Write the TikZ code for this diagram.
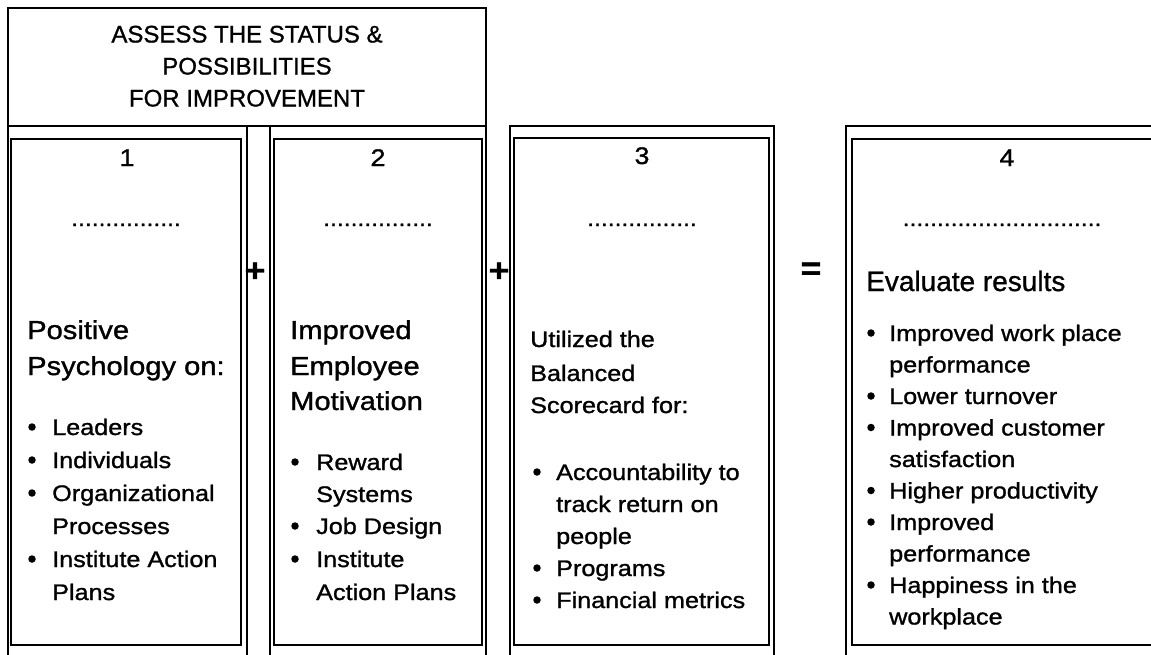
\documentclass[tikz,border=0pt]{standalone}
\usepackage{fontspec}
\setmainfont[FakeStretch=1.12,FakeBold=1.2]{Liberation Sans}
\newfontfamily\plainfont[FakeBold=1.0]{Liberation Sans}
\begin{document}
\begin{tikzpicture}[x=1pt,y=-1pt,
  outer/.style={line width=1.3pt},
  inner/.style={line width=2pt},
  hdr/.style={anchor=base, inner sep=0pt, font=\plainfont\fontsize{24}{28}\selectfont},
  num/.style={anchor=base, inner sep=0pt, font=\fontsize{24}{28}\selectfont},
  dotline/.style={anchor=base, inner sep=0pt, font=\fontsize{22}{26}\selectfont},
  sign/.style={anchor=center, inner sep=0pt, font=\bfseries\fontsize{32}{36}\selectfont},
  head/.style={anchor=base west, inner sep=0pt, font=\fontsize{26}{30}\selectfont},
  headsm/.style={anchor=base west, inner sep=0pt, font=\fontsize{22.5}{27}\selectfont},
  txt/.style={anchor=base west, inner sep=0pt, font=\fontsize{22.5}{27}\selectfont},
  bul/.style={circle, fill=black, inner sep=0pt, minimum size=7.5pt}]
\useasboundingbox (0,0) rectangle (1151,654);
\clip (0,0) rectangle (1151,654);
\fill[white] (0,0) rectangle (1151,654);
% frames
\draw[outer] (8,670) -- (8,8) -- (486,8) -- (486,670);
\draw[outer] (8,126) -- (486,126);
\draw[outer] (247,126) -- (247,670);
\draw[outer] (270,126) -- (270,670);
\draw[outer] (510,670) -- (510,126) -- (774,126) -- (774,670);
\draw[outer] (846,670) -- (846,126) -- (1160,126);
\draw[inner] (11,139) rectangle (241,645);
\draw[inner] (274,139) rectangle (482,645);
\draw[inner] (514,138) rectangle (769,645);
\draw[inner] (1160,139) -- (852,139) -- (852,645) -- (1160,645);
% header
\node[hdr] (h1) at (247,42.5) {ASSESS THE STATUS \&};
\node[hdr] (h2) at (247,74.5) {POSSIBILITIES};
\node[hdr] (h3) at (247,106.5) {FOR IMPROVEMENT};
% numbers
\node[num] (n1) at (127,166) {1};
\node[num] (n2) at (378,166) {2};
\node[num] (n3) at (642,164) {3};
\node[num] (n4) at (1007,166) {4};
% dots
\node[dotline] (d1) at (126,226) {................};
\node[dotline] (d2) at (378,226) {................};
\node[dotline] (d3) at (642,226) {................};
\node[dotline] (d4) at (1002,226) {.............................};
% signs
\node[sign] (p1) at (255,272) {+};
\node[sign] (p2) at (499,272) {+};
\node[sign] (eq) at (811,271) {=};
% box 1
\node[head] (a1) at (27,339) {Positive};
\node[head] (a2) at (27,375) {Psychology on:};
\node[bul] (ab1) at (32,427) {}; \node[txt] (at1) at (52,435) {Leaders};
\node[bul] (ab2) at (32,460) {}; \node[txt] (at2) at (52,468) {Individuals};
\node[bul] (ab3) at (32,493) {}; \node[txt] (at3) at (52,501) {Organizational};
\node[txt] (at4) at (52,534) {Processes};
\node[bul] (ab5) at (32,559) {}; \node[txt] (at5) at (52,567) {Institute Action};
\node[txt] (at6) at (52,600) {Plans};
% box 2
\node[head] (b1) at (290,339) {Improved};
\node[head] (b2) at (290,375) {Employee};
\node[head] (b3) at (290,410) {Motivation};
\node[bul] (bb1) at (295,462) {}; \node[txt] (bt1) at (316,470) {Reward};
\node[txt] (bt2) at (316,502) {Systems};
\node[bul] (bb3) at (295,526) {}; \node[txt] (bt3) at (316,534) {Job Design};
\node[bul] (bb4) at (295,559) {}; \node[txt] (bt4) at (316,567) {Institute};
\node[txt] (bt5) at (316,600) {Action Plans};
% box 3
\node[headsm] (c1) at (530,347) {Utilized the};
\node[headsm] (c2) at (530,381) {Balanced};
\node[headsm] (c3) at (530,413) {Scorecard for:};
\node[bul] (cb1) at (537,472) {}; \node[txt] (ct1) at (556,480) {Accountability to};
\node[txt] (ct2) at (556,512) {track return on};
\node[txt] (ct3) at (556,544) {people};
\node[bul] (cb4) at (537,568) {}; \node[txt] (ct4) at (556,576) {Programs};
\node[bul] (cb5) at (537,600) {}; \node[txt] (ct5) at (556,608) {Financial metrics};
% box 4
\node[anchor=base west, inner sep=0pt, font=\plainfont\fontsize{28}{32}\selectfont] (e0) at (866,291) {Evaluate results};
\node[bul] (eb1) at (871,333) {}; \node[txt] (et1) at (889,341) {Improved work place};
\node[txt] (et2) at (889,372.5) {performance};
\node[bul] (eb3) at (871,396) {}; \node[txt] (et3) at (889,404) {Lower turnover};
\node[bul] (eb4) at (871,427.5) {}; \node[txt] (et4) at (889,435.5) {Improved customer};
\node[txt] (et5) at (889,467) {satisfaction};
\node[bul] (eb6) at (871,490.5) {}; \node[txt] (et6) at (889,498.5) {Higher productivity};
\node[bul] (eb7) at (871,522) {}; \node[txt] (et7) at (889,530) {Improved};
\node[txt] (et8) at (889,561.5) {performance};
\node[bul] (eb9) at (871,585) {}; \node[txt] (et9) at (889,593) {Happiness in the};
\node[txt] (et10) at (889,624.5) {workplace};
\end{tikzpicture}
\end{document}
